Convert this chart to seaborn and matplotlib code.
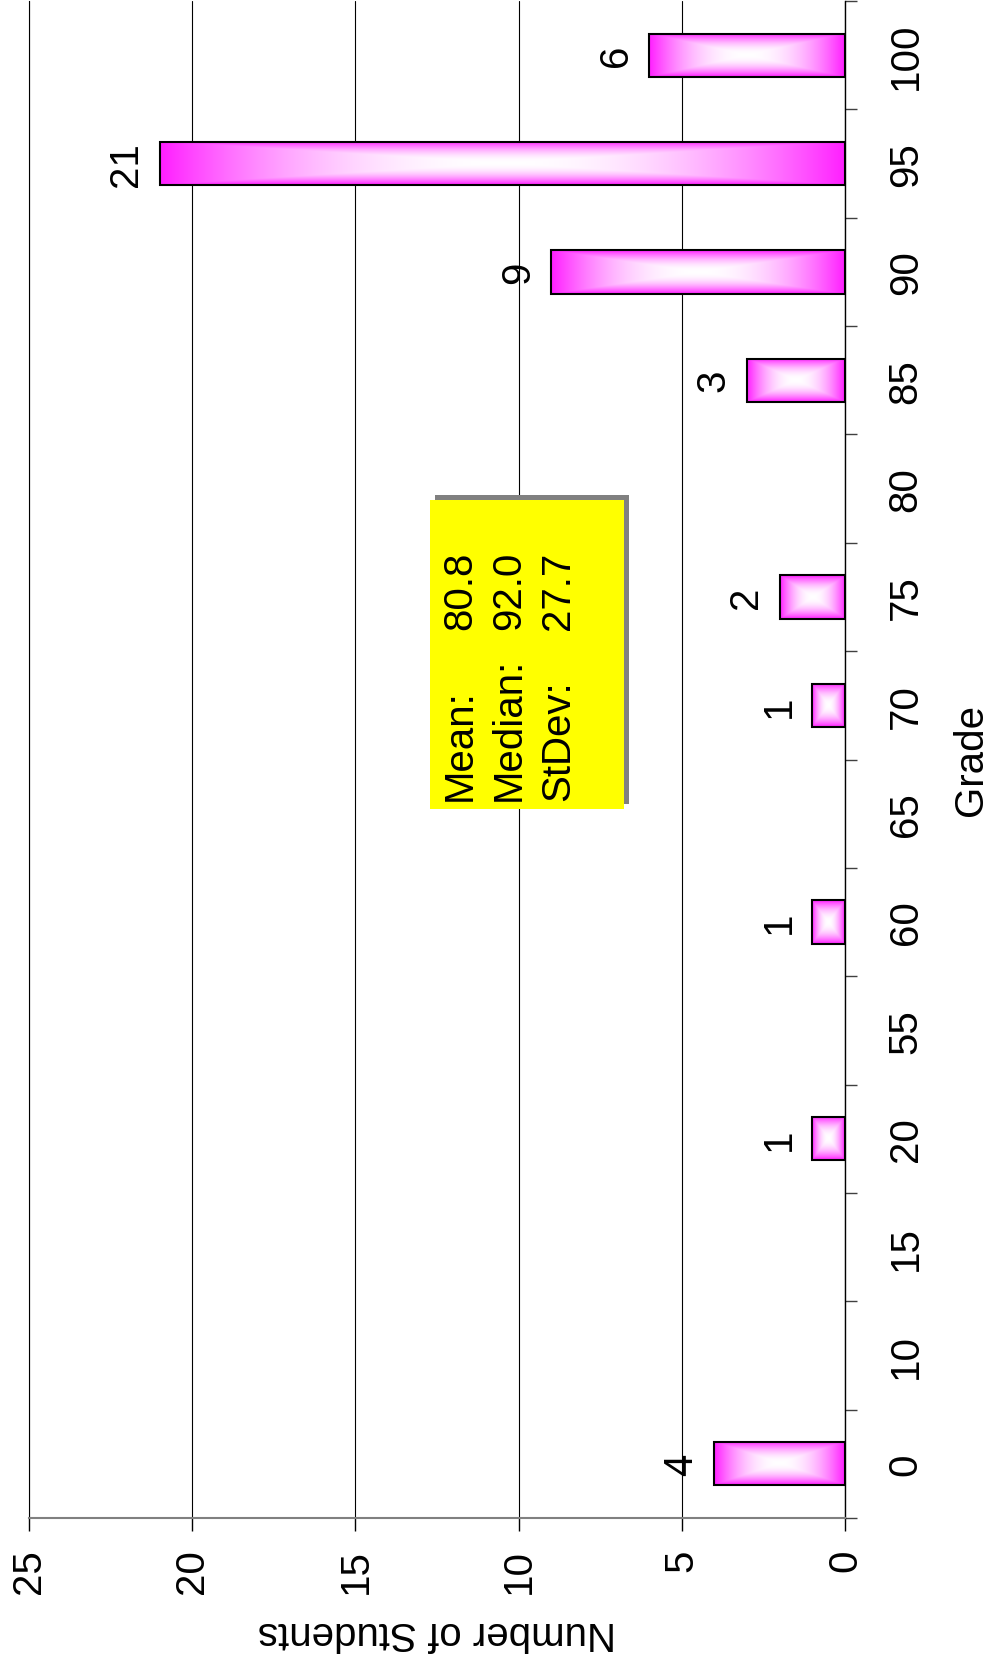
import numpy as np
import pandas as pd
import matplotlib
matplotlib.use('Agg')
import matplotlib.pyplot as plt
import seaborn as sns
from matplotlib.patches import Rectangle
from matplotlib.ticker import FixedLocator

# ---- data ----
grades = ['0', '10', '15', '20', '55', '60', '65', '70', '75', '80', '85', '90', '95', '100']
counts = [4, 0, 0, 1, 0, 1, 0, 1, 2, 0, 3, 9, 21, 6]
count_ticks = [0, 5, 10, 15, 20, 25]
stat_names = ['Mean:', 'Median:', 'StDev:']
stat_values = ['80.8', '92.0', '27.7']
x_label = 'Number of Students'
y_label = 'Grade'

sns.set_style('white')
plt.rcParams['font.family'] = ['Liberation Sans', 'DejaVu Sans']
plt.rcParams['text.color'] = 'black'
plt.rcParams['axes.labelcolor'] = 'black'
plt.rcParams['xtick.color'] = 'black'
plt.rcParams['ytick.color'] = 'black'

W, H = 990, 1665
FS = 29
fig = plt.figure(figsize=(W / 100, H / 100), dpi=100)
ax = fig.add_axes([29 / W, 1 - 1519 / H, (845 - 29) / W, (1519 - 2) / H])

df = pd.DataFrame({'Grade': grades, 'Count': counts})
order = grades[::-1]
sns.barplot(data=df, x='Count', y='Grade', order=order, orient='h', width=0.4,
            color='#ff1fff', edgecolor='black', linewidth=1.5, ax=ax, zorder=3)

# rectangular gradient fill (magenta edges -> white centre)
magenta = np.array([1.0, 0.12, 1.0])
nx, ny = 300, 80
U, V = np.meshgrid(np.linspace(-1, 1, nx), np.linspace(-1, 1, ny))
t = np.maximum(np.abs(U), np.abs(V))
s = t ** 2
img = (1 - s)[..., None] * np.ones(3) + s[..., None] * magenta

bars = list(ax.patches)
for p in bars:
    w = p.get_width()
    if w <= 0:
        p.set_visible(False)
        continue
    p.set_facecolor('none')
    x0, y0, h = p.get_x(), p.get_y(), p.get_height()
    im = ax.imshow(img, extent=(x0, x0 + w, y0 + h, y0), aspect='auto',
                   interpolation='bilinear', zorder=2)
    im.set_clip_path(p)
    ax.annotate(f"{int(round(w))}", xy=(x0 + w, y0 + h / 2), xytext=(-10.5, 0),
                textcoords='offset points', rotation=90, ha='right', va='center',
                fontsize=FS, color='black', zorder=4)

ax.set_xlim(25, 0)
ax.set_ylim(len(order) - 0.5, -0.5)

# grid
ax.set_axisbelow(True)
ax.grid(axis='x', color='black', linewidth=0.8)
ax.grid(axis='y', visible=False)

# x (count) axis at bottom
ax.set_xticks(count_ticks)
ax.tick_params(axis='x', which='major', bottom=True, top=False, direction='out',
               length=9.4, width=1, color='black', labelcolor='black',
               labelsize=FS, labelrotation=90, pad=12.5)
for lbl in ax.get_xticklabels():
    lbl.set_va('top')
    lbl.set_ha('center')

# y (grade) axis on right
ax.yaxis.tick_right()
ax.set_yticks(range(len(order)))
ax.set_yticklabels(order)
ax.yaxis.set_minor_locator(FixedLocator(np.arange(-0.5, len(order), 1)))
ax.tick_params(axis='y', which='major', left=False, right=True, length=0,
               labelcolor='black', labelsize=FS, labelrotation=90, pad=30)
ax.tick_params(axis='y', which='minor', left=False, right=True, direction='out',
               length=8.6, width=1, color='#404040')
for lbl in ax.get_yticklabels():
    lbl.set_va('center')

# spines
ax.spines['top'].set_visible(False)
ax.spines['left'].set_visible(True)
ax.spines['left'].set_color('black')
ax.spines['left'].set_linewidth(0.8)
ax.spines['right'].set_visible(True)
ax.spines['right'].set_color('black')
ax.spines['right'].set_linewidth(1.0)
ax.spines['bottom'].set_color('#808080')
ax.spines['bottom'].set_linewidth(1.5)

# axis labels
ax.set_xlabel(x_label, fontsize=FS, rotation=180, va='center', ha='center', color='black')
ax.xaxis.set_label_coords(0.5, (1519 - 1633.5) / 1517)
ax.yaxis.set_label_position('right')
ax.set_ylabel(y_label, fontsize=FS, rotation=90, va='center', ha='center', color='black')
ax.yaxis.set_label_coords((971 - 29) / 816, 0.5)

# stats box
fig.patches.append(Rectangle((435 / W, 1 - 805 / H), 194 / W, 309 / H, transform=fig.transFigure,
                             facecolor='#808080', edgecolor='none', zorder=5))
fig.patches.append(Rectangle((430 / W, 1 - 810 / H), 194 / W, 309 / H, transform=fig.transFigure,
                             facecolor='#ffff00', edgecolor='none', zorder=6))
for name, val, x in zip(stat_names, stat_values, [460, 509, 558]):
    fig.text(x / W, 1 - 801 / H, name, rotation=90, ha='center', va='bottom',
             fontsize=FS, color='black', zorder=7)
    fig.text(x / W, 1 - 630 / H, val, rotation=90, ha='center', va='bottom',
             fontsize=FS, color='black', zorder=7)

fig.savefig('out.png', dpi=100)
